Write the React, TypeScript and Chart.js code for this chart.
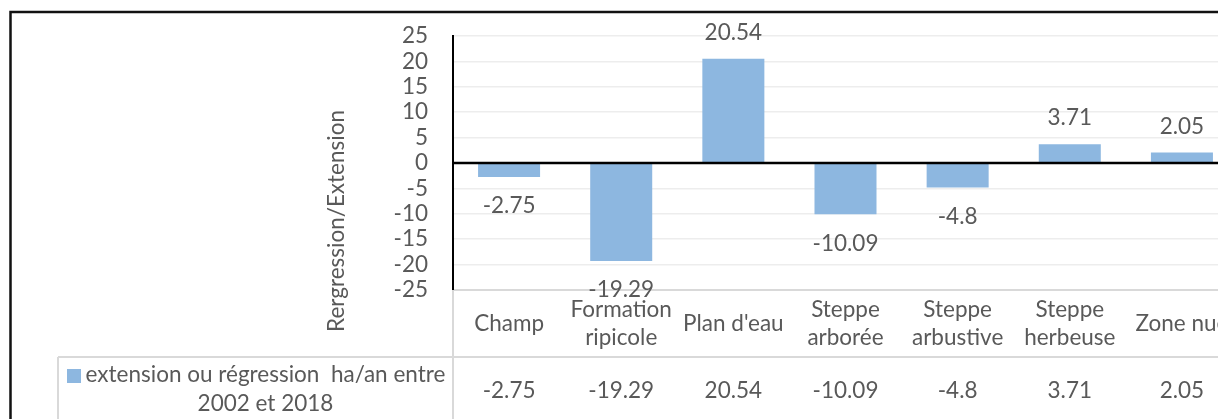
import React, { useEffect, useRef } from 'react';
import { Chart, registerables } from 'chart.js';

Chart.register(...registerables);

// ---- data ----
const categories: (string | string[])[] = [
  'Champ',
  ['Formation', 'ripicole'],
  "Plan d'eau",
  ['Steppe', 'arborée'],
  ['Steppe', 'arbustive'],
  ['Steppe', 'herbeuse'],
  'Zone nue',
];
const values: number[] = [-2.75, -19.29, 20.54, -10.09, -4.8, 3.71, 2.05];
const seriesLabelLines: string[] = ['extension ou régression  ha/an entre', '2002 et 2018'];
const axisTitle = 'Rergression/Extension';
const yMin = -25;
const yMax = 25;
const yStep = 5;

// ---- style ----
const FAMILY = 'Lato, "Open Sans", sans-serif';
const TEXT = '#595959';
const BAR = '#8DB7E0';
const GRID = '#ededed';
const TABLE = '#d9d9d9';

const CW = 1250;
const CH = 411;

function fitFontSize(): number {
  const c = document.createElement('canvas').getContext('2d');
  if (!c) return 21;
  c.font = `100px ${FAMILY}`;
  const w = c.measureText(seriesLabelLines[0]).width;
  return Math.round((100 * 359) / w * 10) / 10;
}

export default function App() {
  const ref = useRef<HTMLCanvasElement | null>(null);

  useEffect(() => {
    if (!ref.current) return;
    const fs = fitFontSize();
    const font = { family: FAMILY, size: fs };

    const tablePlugin = {
      id: 'excelTable',
      afterDatasetsDraw(chart: any) {
        const { ctx, chartArea } = chart;
        const y = chart.scales.y;
        const meta = chart.getDatasetMeta(0);
        ctx.save();
        // zero axis line
        const y0 = y.getPixelForValue(0);
        ctx.strokeStyle = '#000';
        ctx.lineWidth = 2.5;
        ctx.beginPath();
        ctx.moveTo(chartArea.left, y0);
        ctx.lineTo(chart.width, y0);
        ctx.stroke();
        // data labels
        ctx.fillStyle = TEXT;
        ctx.font = `${fs}px ${FAMILY}`;
        ctx.textAlign = 'center';
        ctx.textBaseline = 'middle';
        meta.data.forEach((el: any, i: number) => {
          const v = values[i];
          const ly = v < 0 ? el.y + 29 : el.y - 26;
          ctx.fillText(String(v), el.x, ly);
        });
        ctx.restore();
      },
      afterDraw(chart: any) {
        const { ctx, chartArea, width, height } = chart;
        const x = chart.scales.x;
        ctx.save();
        // outer frame
        ctx.strokeStyle = '#111';
        ctx.lineWidth = 2.5;
        ctx.strokeRect(2.5, 4, width + 20, height + 20);

        // axis title (rotated)
        ctx.fillStyle = TEXT;
        ctx.font = `${fs}px ${FAMILY}`;
        ctx.textAlign = 'center';
        ctx.textBaseline = 'middle';
        ctx.save();
        ctx.translate(329, 213);
        ctx.rotate(-Math.PI / 2);
        ctx.fillText(axisTitle, 0, 0);
        ctx.restore();

        // table lines
        const rowTop = x.bottom;
        ctx.strokeStyle = TABLE;
        ctx.lineWidth = 2;
        ctx.beginPath();
        ctx.moveTo(50, rowTop);
        ctx.lineTo(width, rowTop);
        ctx.moveTo(chartArea.left, chartArea.bottom);
        ctx.lineTo(chartArea.left, height);
        ctx.moveTo(50, rowTop);
        ctx.lineTo(50, height);
        ctx.stroke();

        // legend key + text
        ctx.fillStyle = BAR;
        ctx.fillRect(59, rowTop + 12, 14, 14);
        ctx.fillStyle = TEXT;
        ctx.fillText(seriesLabelLines[0], 257.5, rowTop + 18);
        ctx.fillText(seriesLabelLines[1], 257.5, rowTop + 47);

        // values row
        values.forEach((v, i) => {
          ctx.fillText(String(v), x.getPixelForValue(i), rowTop + 34);
        });
        ctx.restore();
      },
    };

    const chart = new Chart(ref.current, {
      type: 'bar',
      data: {
        labels: categories,
        datasets: [
          {
            label: seriesLabelLines.join(' '),
            data: values,
            backgroundColor: BAR,
            borderWidth: 0,
            barPercentage: 0.553,
            categoryPercentage: 1,
          },
        ],
      },
      options: {
        responsive: false,
        animation: false,
        devicePixelRatio: 1,
        layout: { padding: { left: 0, top: 28, right: 20, bottom: 62 } },
        plugins: {
          legend: { display: false },
          tooltip: { enabled: false },
        },
        scales: {
          x: {
            grid: { display: false, drawTicks: false },
            border: { display: true, color: TABLE, width: 2 },
            ticks: {
              color: TEXT,
              font: { ...font, lineHeight: '28px' },
              padding: 20,
              crossAlign: 'center',
              maxRotation: 0,
              minRotation: 0,
              autoSkip: false,
            },
            afterFit: (s: any) => {
              s.height = 67;
            },
          },
          y: {
            min: yMin,
            max: yMax,
            ticks: {
              stepSize: yStep,
              color: TEXT,
              font: { ...font, lineHeight: 1.2 },
              padding: 0,
              autoSkip: false,
            },
            grid: {
              drawTicks: true,
              tickLength: 25,
              tickColor: 'rgba(0,0,0,0)',
              color: (c: any) => (c.tick && c.tick.value === 0 ? 'rgba(0,0,0,0)' : GRID),
              lineWidth: 1.5,
            },
            border: { display: true, color: '#000', width: 2 },
            afterFit: (s: any) => {
              s.width = 445;
            },
          },
        },
      },
      plugins: [tablePlugin],
    } as any);

    return () => chart.destroy();
  }, []);

  return (
    <div style={{ width: 1218, height: CH, overflow: 'hidden', position: 'relative' }}>
      <canvas ref={ref} width={CW} height={CH} style={{ display: 'block', width: CW, height: CH }} />
    </div>
  );
}
